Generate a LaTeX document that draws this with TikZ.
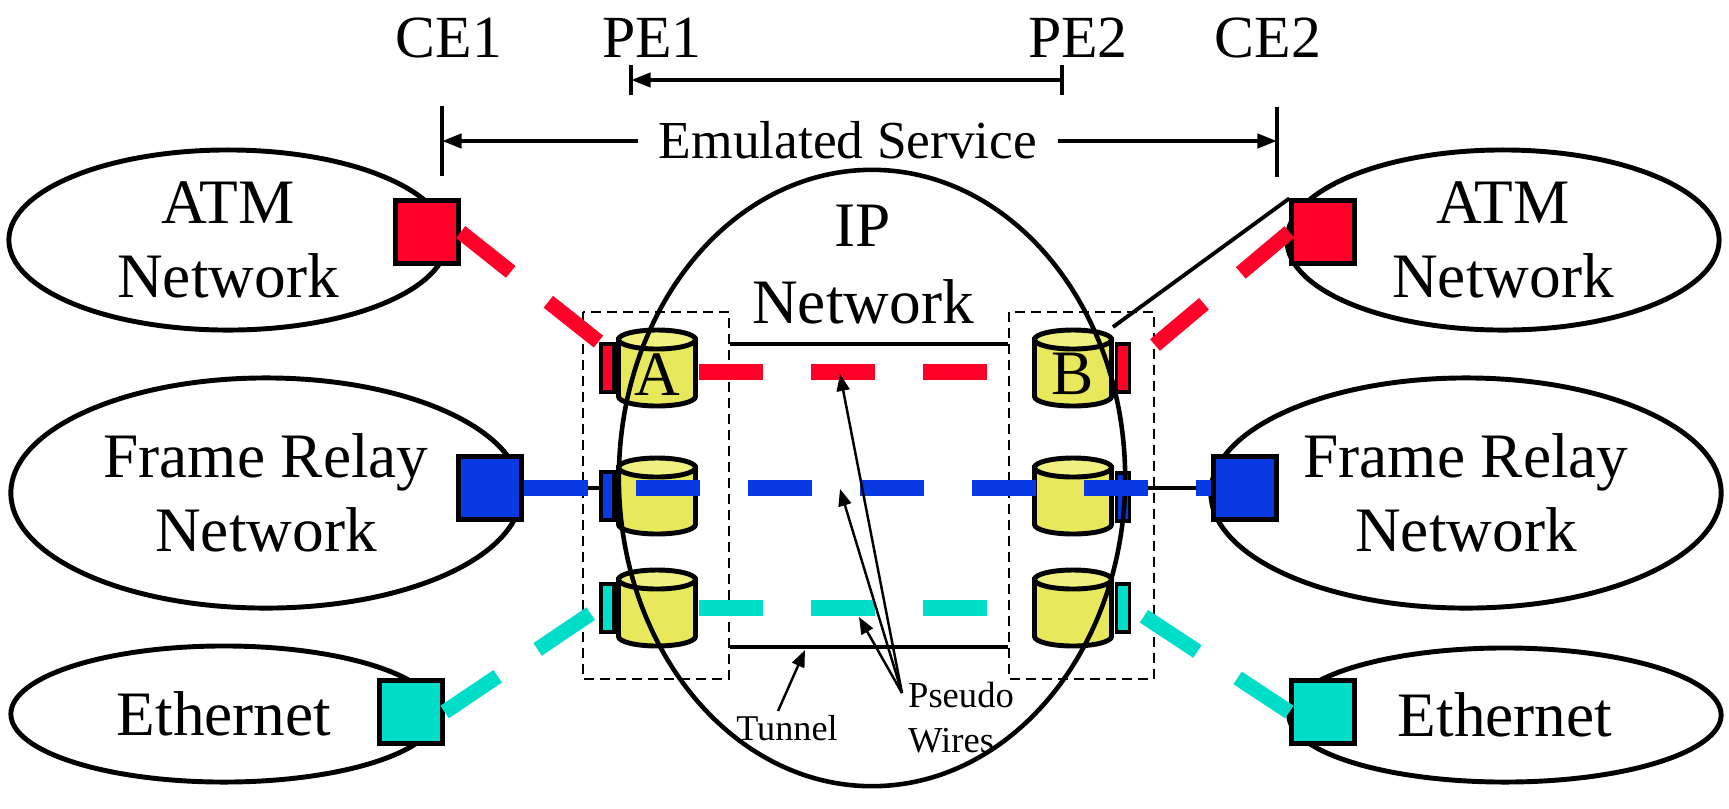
\documentclass[tikz,border=0pt]{standalone}
\usepackage{fontspec}
\setmainfont{Liberation Serif}
\usetikzlibrary{shapes.geometric,arrows.meta}
\definecolor{atmred}{RGB}{255,0,41}
\definecolor{frblue}{RGB}{8,58,228}
\definecolor{ethcyan}{RGB}{0,222,202}
\definecolor{cylbody}{RGB}{232,232,92}
\definecolor{cyltop}{RGB}{240,240,128}

% PE router drawn as a cylinder: x, y, name, label
\newcommand{\pecyl}[4]{%
  \filldraw[cylline, fill=cylbody] (#1-38.5,#2-28.5) -- (#1-38.5,#2+28.5)
    arc[start angle=180, end angle=0, x radius=38.5, y radius=9.5] -- (#1+38.5,#2-28.5) -- cycle;
  \filldraw[cylline, fill=cyltop] (#1,#2-28.5) ellipse[x radius=38.5, y radius=9.5];
  \node[pe] (#3) at (#1,#2) {#4};}

\begin{document}
\begin{tikzpicture}[
x=0.01cm, y=-0.01cm,
font=\fontsize{17}{20}\selectfont
]

\tikzstyle{net} = [draw, ellipse, line width=1.4pt, inner sep=0pt, align=center, font=\fontsize{18}{21}\selectfont]
\tikzstyle{ce} = [draw, rectangle, line width=1.2pt, minimum size=0.63cm, inner sep=0pt]
\tikzstyle{cylline} = [line width=1.4pt]
\tikzstyle{pe} = [rectangle, inner sep=0pt, minimum width=0.82cm, minimum height=0.81cm, text height=0.54cm, font=\fontsize{18}{21}\selectfont]
\tikzstyle{port} = [draw, rectangle, line width=1.1pt, minimum width=0.13cm, minimum height=0.48cm, inner sep=0pt]
\tikzstyle{box} = [draw, dash pattern=on 2.85pt off 1.7pt, line width=0.6pt]
\tikzstyle{wire} = [line width=4.3pt, dash pattern=on 0.64cm off 0.48cm]
\tikzstyle{tun} = [line width=1.3pt]
\tikzstyle{thin} = [line width=1.1pt]
\tikzstyle{dim} = [line width=1.2pt, -{Triangle[length=5.6pt,width=4pt]}]
\tikzstyle{pt} = [line width=0.7pt, -{Triangle[length=4.8pt,width=3.7pt]}]

\useasboundingbox (0,0) rectangle (1729,808);

% access networks
\node[net, minimum width=4.38cm, minimum height=1.8cm] (atmL) at (228,240) {ATM\\Network};
\node[net, minimum width=5.1cm, minimum height=2.3cm] (frL) at (266,493) {Frame Relay\\Network};
\node[net, minimum width=4.26cm, minimum height=1.36cm] (ethL) at (224,714) {Ethernet};
\node[net, minimum width=4.32cm, minimum height=1.8cm] (atmR) at (1503,240) {ATM\\Network};
\node[net, minimum width=5.1cm, minimum height=2.3cm] (frR) at (1466,493) {Frame Relay\\Network};
\node[net, minimum width=4.32cm, minimum height=1.34cm] (ethR) at (1505,715) {Ethernet};

% PE boxes and tunnel
\draw[box] (583,312) rectangle (729,679);
\draw[box] (1009,312) rectangle (1154,679);
\draw[tun] (730,344) -- (1008,344);
\draw[tun] (730,647) -- (1008,647);

% PE routers
\pecyl{657}{368}{cylA}{A}
\pecyl{657}{496}{cylA2}{}
\pecyl{657}{608}{cylA3}{}
\pecyl{1073}{368}{cylB}{B}
\pecyl{1073}{496}{cylB2}{}
\pecyl{1073}{608}{cylB3}{}

\node[port, fill=atmred] (portA) at (607.5,368) {};
\node[port, fill=frblue] (portA2) at (607.5,496) {};
\node[port, fill=ethcyan] (portA3) at (607.5,608) {};
\node[port, fill=atmred] (portB) at (1123,368) {};
\node[port, fill=frblue] (portB2) at (1123,497) {};
\node[port, fill=ethcyan] (portB3) at (1123,608) {};

% IP network
\node[draw, ellipse, line width=1.3pt, minimum width=5.06cm, minimum height=6.16cm] (ipnet) at (872,478) {};
\node[font=\fontsize{18}{21.9}\selectfont, align=center] (iplbl) at (863,265) {IP\\Network};

% CE devices
\node[ce, fill=atmred] (ceAtmL) at (427,232) {};
\node[ce, fill=frblue] (ceFrL) at (490,488) {};
\node[ce, fill=ethcyan] (ceEthL) at (411,712) {};
\node[ce, fill=atmred] (ceAtmR) at (1323,232) {};
\node[ce, fill=frblue] (ceFrR) at (1245,488) {};
\node[ce, fill=ethcyan] (ceEthR) at (1323,712) {};

% pseudo wires
\coordinate (redRfoot) at (1155,345);
\coordinate (blkRfoot) at (1113,327);
\draw[thin] (ceFrL.east) -- (ceFrL.east -| portA2.west);
\draw[thin] (ceFrR.west -| portB2.east) -- (ceFrR.west);
\draw[thin] (blkRfoot) -- (ceAtmR.north west);
\draw[wire, atmred] ([yshift=-0.04cm]cylA.east) -- ([yshift=-0.04cm]cylB.west);
\draw[wire, ethcyan] (cylA3.east) -- (cylB3.west);
\draw[wire, frblue] (ceFrL.east) -- (ceFrR.west);
\draw[wire, atmred] (ceAtmL.east) -- (portA.north west);
\draw[wire, atmred] (redRfoot) -- (ceAtmR.west);
\draw[wire, ethcyan] (ceEthL.east) -- (portA3.west);
\draw[wire, ethcyan, dash phase=0.97cm] (portB3.east) -- (ceEthR.west);

% labels with pointers
\node[font=\fontsize{10.3}{12}\selectfont] (tunnel) at (787,728) {Tunnel};
\node[font=\fontsize{10.4}{12.8}\selectfont, align=left] (pwlbl) at (961,718) {Pseudo\\Wires};
\coordinate (tunfoot) at (778,711);
\coordinate (tuntip) at (805,650);
\coordinate (pwfoot) at (902,693);
\coordinate (pwR) at (840,374);
\coordinate (pwB) at (840,489);
\coordinate (pwC) at (859,617);
\draw[pt] (tunfoot) -- (tuntip);
\draw[pt] (pwfoot) -- (pwR);
\draw[pt] (pwfoot) -- (pwB);
\draw[pt] (pwfoot) -- (pwC);

% top dimension lines
\node[anchor=base] (ce1) at (449,57) {CE1};
\node[anchor=base] (pe1) at (652,57) {PE1};
\node[anchor=base] (pe2) at (1078,57) {PE2};
\node[anchor=base] (ce2) at (1268,57) {CE2};
\node[anchor=base, inner xsep=0.2cm, font=\fontsize{15.2}{18}\selectfont] (emu) at (848,158) {Emulated Service};
\coordinate (pe1x) at (631,80);
\coordinate (pe2x) at (1062,80);
\coordinate (ce1x) at (442,141);
\coordinate (ce2x) at (1277,141);
\draw[line width=0.9pt] (631,65) -- (631,95);
\draw[line width=0.9pt] (1062,65) -- (1062,95);
\draw[line width=0.9pt] (442,106) -- (442,176);
\draw[line width=0.9pt] (1277,107) -- (1277,177);
\draw[dim, {Triangle[length=5.6pt,width=4pt]}-] (pe1x) -- (pe2x);
\draw[dim] (emu.west |- ce1x) -- (ce1x);
\draw[dim] (emu.east |- ce2x) -- (ce2x);

\end{tikzpicture}
\end{document}
